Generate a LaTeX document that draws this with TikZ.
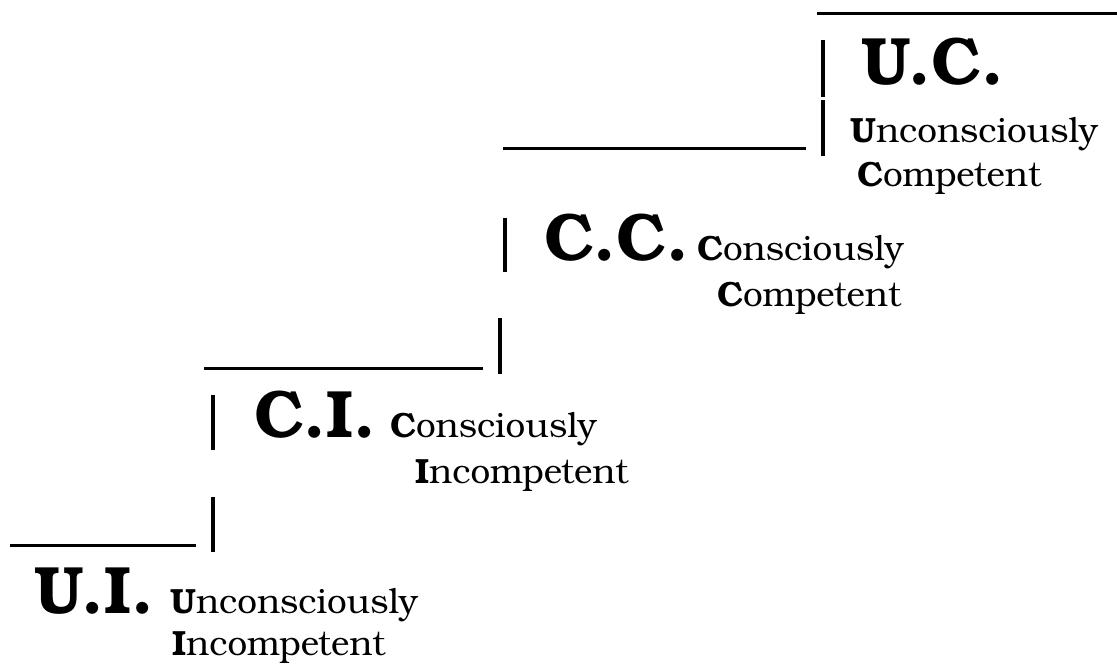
\documentclass[tikz,border=0pt]{standalone}
\usepackage{fontspec}
\setmainfont{TeX Gyre Bonum}
\begin{document}
\begin{tikzpicture}[x=1pt,y=-1pt,
  abbr/.style={font=\bfseries\fontsize{67}{67}\selectfont, anchor=base west, inner sep=0pt},
  word/.style={font=\fontsize{35}{35}\selectfont, anchor=base west, inner sep=0pt},
  hline/.style={line width=3pt},
  vbar/.style={line width=4pt}]
\useasboundingbox (0,0) rectangle (1117,671);
% level 0
\draw[hline] (10,545) coordinate (h0a) -- (196,545) coordinate (h0b);
\draw[vbar] (213,497) coordinate (v0a) -- (213,552) coordinate (v0b);
\node[abbr] (ui) at (34,613) {U.I.};
\node[word] (ui1) at (170,613) {\textbf{U}nconsciously};
\node[word] (ui2) at (172,655) {\textbf{I}ncompetent};
% level 1
\draw[vbar] (213,395) coordinate (v1a) -- (213,450) coordinate (v1b);
\node[abbr] (ci) at (254,437) {C.I.};
\node[word] (ci1) at (390,437) {\textbf{C}onsciously};
\node[word] (ci2) at (415,483) {\textbf{I}ncompetent};
\draw[hline] (204,368) coordinate (h1a) -- (483,368) coordinate (h1b);
\draw[vbar] (500,318) coordinate (v1c) -- (500,374) coordinate (v1d);
% level 2
\draw[vbar] (505,218) coordinate (v2a) -- (505,272) coordinate (v2b);
\node[abbr] (cc) at (544,261) {C.C.};
\node[word] (cc1) at (697,261) {\textbf{C}onsciously};
\node[word] (cc2) at (717,306) {\textbf{C}ompetent};
\draw[hline] (503,149) coordinate (h2a) -- (806,149) coordinate (h2b);
\draw[vbar] (823,100) coordinate (v2c) -- (823,156) coordinate (v2d);
% level 3
\draw[vbar] (823,40) coordinate (v3a) -- (823,97) coordinate (v3b);
\node[abbr] (uc) at (861,85) {U.C.};
\node[word] (uc1) at (850,143) {\textbf{U}nconsciously};
\node[word] (uc2) at (857,187) {\textbf{C}ompetent};
\draw[hline] (817,14) coordinate (h3a) -- (1117,14) coordinate (h3b);
\end{tikzpicture}
\end{document}
